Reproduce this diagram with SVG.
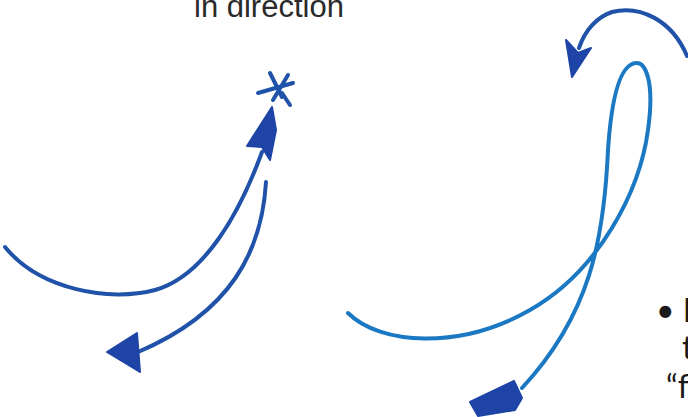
<svg xmlns="http://www.w3.org/2000/svg" width="688" height="417" viewBox="0 0 688 417">
<style>
.t1{font-family:"Liberation Sans",Arial,sans-serif;font-size:31px;fill:#2a2a2a}
.t2{font-family:"Lato","Open Sans",sans-serif;font-size:32px;fill:#1a1a1a}
.s{fill:none;stroke:#1f52a8;stroke-width:4;stroke-linecap:round;stroke-linejoin:round}
.lt{fill:none;stroke:#1b78c2;stroke-width:4;stroke-linecap:round}
.h{fill:#1d44a6;stroke:#1d44a6;stroke-width:2;stroke-linejoin:round}
</style>
<rect width="688" height="417" fill="#ffffff"/>
<g id="label-top"><text class="t1" x="194" y="17">in direction</text></g>
<g id="label-right">
<text class="t2" x="656" y="322">• L</text>
<text class="t2" x="682" y="359">t</text>
<text class="t2" x="666" y="398">“f</text>
</g>
<g id="star"><g class="s">
<path d="M270,73 L282,97 M258,93 L293,83 M288,75 L273,100 M282,93 L290,105"/>
</g></g>
<g id="connectors">
<path class="s" d="M5,247 C40,290 110,302 155,290 C205,276 240,212 262,152"/>
<path class="s" d="M266,182 C262,250 232,312 138,352"/>
<path class="s" d="M687,56 C672,20 640,5 612,12 C597,17 585,30 579,48"/>
<path class="lt" d="M348,313 C380,345 460,350 530,310 C600,270 640,190 648,130 C655,80 645,62 636,63 C622,64 612,90 608,150 C604,240 590,315 522,388"/>
<polygon class="h" points="272,107 247,146 262,147 270,160 276,130"/>
<polygon class="h" points="107,352 137,333 140,372"/>
<polygon class="h" points="572,77 566,40 578,53 591,48"/>
<polygon class="h" points="470,402 514,381 522,398 515,410 478,416"/>
</g>
</svg>
